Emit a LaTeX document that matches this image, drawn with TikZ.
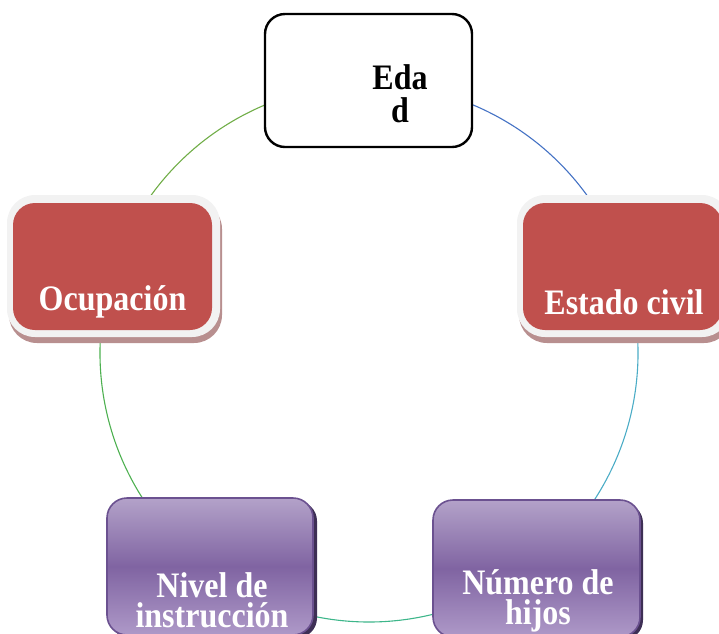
\documentclass[tikz,border=0pt]{standalone}
\usepackage{fontspec}
\setmainfont{Liberation Serif}
\begin{document}
\begin{tikzpicture}[x=1pt,y=1pt]
\definecolor{redfill}{HTML}{C0504D}
\definecolor{framefill}{HTML}{F2F2F2}
\definecolor{redshadow}{HTML}{B88F8F}
\definecolor{purtop}{HTML}{B3A2C9}
\definecolor{purmid}{HTML}{8064A2}
\definecolor{purbot}{HTML}{AE99C8}
\definecolor{purline}{HTML}{6B5190}
\definecolor{purshadow}{HTML}{3E2F55}
\definecolor{arcA}{HTML}{4472C4}
\definecolor{arcB}{HTML}{4BACC6}
\definecolor{arcC}{HTML}{3DB68A}
\definecolor{arcD}{HTML}{4DB050}
\definecolor{arcE}{HTML}{70AD47}
\tikzset{
  arcline/.style={line width=1.1pt},
  boxtext/.style={font=\fontsize{32}{27}\selectfont\bfseries, align=center, inner sep=0pt, yscale=1.12, transform shape},
  wideleading/.style={font=\fontsize{32}{29.5}\selectfont\bfseries},
  whitebox/.style={draw=black, line width=2.4pt, fill=white, rounded corners=20pt},
  redframe/.style={fill=framefill, rounded corners=28pt},
  redbox/.style={fill=redfill, rounded corners=22pt},
  redshadowbox/.style={fill=redshadow, rounded corners=28pt},
  purbox/.style={draw=purline, line width=1.6pt, top color=purtop, bottom color=purbot, middle color=purmid, rounded corners=20pt},
  purshadowbox/.style={fill=purshadow, rounded corners=20pt}
}
\useasboundingbox (0,0) rectangle (719,-633);
\clip (0,0) rectangle (719,-633);
% circle of connectors
\coordinate (C) at (369,-353);
\def\R{269}
\draw[arcline, arcA] ([shift={(90:\R)}]C) arc[start angle=90, end angle=18, radius=\R];
\draw[arcline, arcB] ([shift={(18:\R)}]C) arc[start angle=18, end angle=-54, radius=\R];
\draw[arcline, arcC] ([shift={(-54:\R)}]C) arc[start angle=-54, end angle=-126, radius=\R];
\draw[arcline, arcD] ([shift={(-126:\R)}]C) arc[start angle=-126, end angle=-198, radius=\R];
\draw[arcline, arcE] ([shift={(162:\R)}]C) arc[start angle=162, end angle=90, radius=\R];
% Edad
\draw[whitebox] (265,-14) rectangle (472,-147);
\node[boxtext, wideleading] (edad) at (400,-94) {Eda\\d};
% Ocupacion
\fill[redshadowbox] (9,-201) rectangle (222,-343);
\fill[redframe] (7,-195) rectangle (220,-337);
\fill[redbox] (13,-203) rectangle (212,-330);
\node[boxtext, text=white] (ocup) at (112.5,-302) {Ocupación};
% Estado civil
\fill[redshadowbox] (519,-201) rectangle (732,-343);
\fill[redframe] (517,-195) rectangle (730,-337);
\fill[redbox] (523,-203) rectangle (722,-330);
\node[boxtext, text=white] (estado) at (624,-302) {Estado civil};
% Nivel de instruccion
\fill[purshadowbox] (110,-501) rectangle (317,-638);
\shade[purbox] (107,-498) rectangle (313,-635);
\node[boxtext, text=white] (nivel) at (212,-600) {Nivel de\\instrucción};
% Numero de hijos
\fill[purshadowbox] (436,-503) rectangle (643,-640);
\shade[purbox] (433,-500) rectangle (640,-637);
\node[boxtext, text=white] (hijos) at (538,-601) {Número de\\hijos};
\end{tikzpicture}
\end{document}
